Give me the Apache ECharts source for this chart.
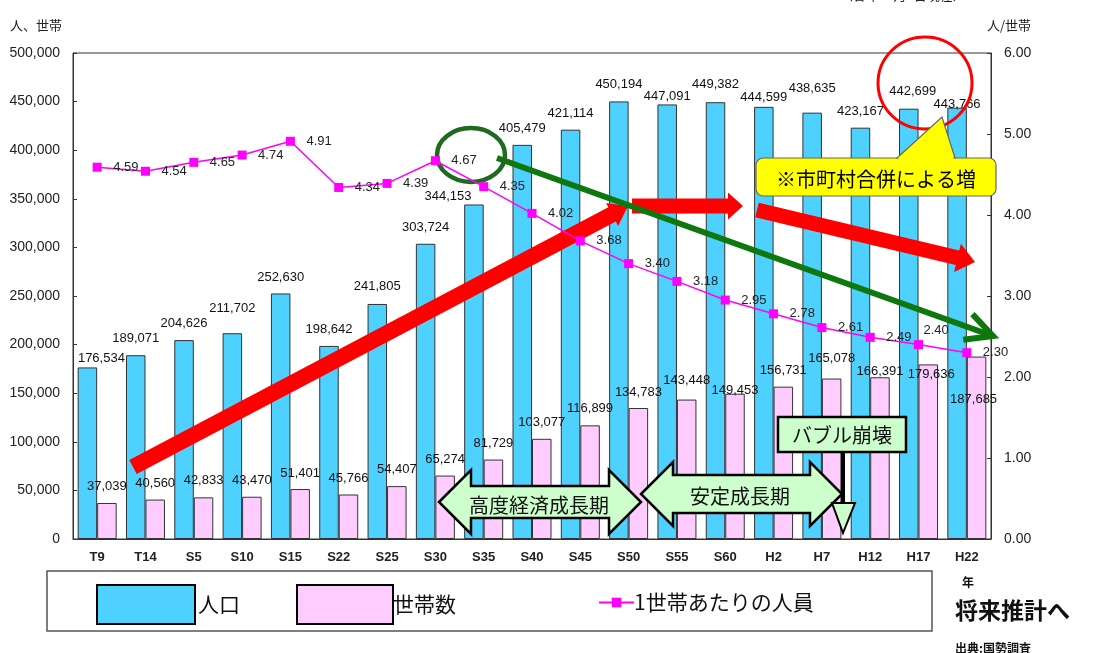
<!DOCTYPE html>
<html>
<head>
<meta charset="utf-8">
<script src="https://cdn.jsdelivr.net/npm/echarts@6/dist/echarts.min.js"></script>
<style>
  html, body { margin: 0; padding: 0; background: #fff; }
  #chart { width: 1105px; height: 653px; }
</style>
</head>
<body>
<div id="chart"></div>
<script>
// 国勢調査年（大正9年〜平成22年）
const years = ['T9','T14','S5','S10','S15','S22','S25','S30','S35','S40','S45','S50','S55','S60','H2','H7','H12','H17','H22'];
// 人口（人）
const population = [176534,189071,204626,211702,252630,198642,241805,303724,344153,405479,421114,450194,447091,449382,444599,438635,423167,442699,443766];
// 世帯数
const households = [37039,40560,42833,43470,51401,45766,54407,65274,81729,103077,116899,134783,143448,149453,156731,165078,166391,179636,187685];
// 1世帯あたりの人員（人/世帯）
const perHousehold = [4.59,4.54,4.65,4.74,4.91,4.34,4.39,4.67,4.35,4.02,3.68,3.40,3.18,2.95,2.78,2.61,2.49,2.40,2.30];
const leftTicks = { min: 0, max: 500000, step: 50000 };
const rightTicks = { min: 0, max: 6, step: 1 };

// label nudges [dx, dy] so neighbouring labels do not collide
const popLabelShift = [[14,8],[0,0],[0,0],[0,-8],[0,0],[0,0],[0,-1],[0,0],[-26,8],[0,0],[0,0],[0,0],[0,8],[0,-1],[0,7],[0,-8],[0,0],[4,-1],[0,13]];
const hhLabelShift = [[0,0],[0,0],[0,0],[0,0],[0,1],[0,0],[0,0],[0,0],[0,0],[0,0],[0,0],[0,1],[0,-3],[0,13],[0,0],[0,-4],[0,11],[3,27],[-3,59]];
const ratioLabelShift = perHousehold.map((v, i) => i === 17 ? [-11, -14] : [0, 0]);

const NUM_FONT = '"Liberation Sans", Arial, sans-serif';
const JP_FONT = '"Noto Sans CJK JP", "Noto Sans", sans-serif';
const fmt = v => Number(v).toLocaleString('en-US');

// polygon for a straight block arrow from (x1,y1) to tip (x2,y2)
function blockArrow(x1, y1, x2, y2, shaft, headW, headL) {
  const dx = x2 - x1, dy = y2 - y1, L = Math.hypot(dx, dy);
  const ux = dx / L, uy = dy / L, nx = -uy, ny = ux;
  const bx = x2 - ux * headL, by = y2 - uy * headL;
  const s = shaft / 2, h = headW / 2;
  return [
    [x1 + nx * s, y1 + ny * s], [bx + nx * s, by + ny * s], [bx + nx * h, by + ny * h],
    [x2, y2],
    [bx - nx * h, by - ny * h], [bx - nx * s, by - ny * s], [x1 - nx * s, y1 - ny * s]
  ];
}
// horizontal double-headed arrow
function doubleArrow(x1, x2, cy, headL, headH, shaftH) {
  return [
    [x1, cy], [x1 + headL, cy - headH], [x1 + headL, cy - shaftH], [x2 - headL, cy - shaftH],
    [x2 - headL, cy - headH], [x2, cy], [x2 - headL, cy + headH], [x2 - headL, cy + shaftH],
    [x1 + headL, cy + shaftH], [x1 + headL, cy + headH]
  ];
}
// open chevron head for a line arrow
function chevron(x1, y1, x2, y2, len, deg) {
  const a = Math.atan2(y1 - y2, x1 - x2), r = deg * Math.PI / 180;
  return [
    [x2 + len * Math.cos(a - r), y2 + len * Math.sin(a - r)],
    [x2, y2],
    [x2 + len * Math.cos(a + r), y2 + len * Math.sin(a + r)]
  ];
}

const chart = echarts.init(document.getElementById('chart'), null, { renderer: 'canvas' });

const txt = (x, y, text, size, opts) => Object.assign({
  type: 'text', x: x, y: y, z: 20,
  style: Object.assign({ text: text, font: size + 'px ' + JP_FONT, fill: '#111', textVerticalAlign: 'middle' }, opts || {})
});

const RED = '#FF0000';
const GREEN = '#0E780E';
const PALE = '#CCFFCC';

const graphics = [
  // header texts
  txt(840, -5, '（各年10月1日現在）', 13, { fill: '#222' }),
  txt(10, 25, '人、世帯', 13, { fill: '#222' }),
  txt(987, 25, '人/世帯', 13, { fill: '#222' }),
  // legend frame
  { type: 'rect', z: 1, shape: { x: 47, y: 571, width: 885, height: 60 }, style: { fill: 'none', stroke: '#555', lineWidth: 1.5 } },
  txt(962, 582, '年', 12, { font: 'bold 12px ' + JP_FONT }),
  txt(955, 610, '将来推計へ', 23, { font: 'bold 23px ' + JP_FONT }),
  txt(955, 648, '出典:国勢調査', 12, { font: 'bold 12px ' + JP_FONT }),
  // growth / plateau / decline arrows
  { type: 'polygon', z: 5, shape: { points: blockArrow(133, 467, 628, 206, 16, 26, 18) }, style: { fill: RED } },
  { type: 'polygon', z: 5, shape: { points: blockArrow(632, 206, 743, 206, 15, 27, 15) }, style: { fill: RED } },
  { type: 'polygon', z: 5, shape: { points: blockArrow(757, 210, 975, 262, 15, 29, 18) }, style: { fill: RED } },
  // per-household trend arrow
  { type: 'line', z: 6, shape: { x1: 497, y1: 158, x2: 990, y2: 335 }, style: { stroke: GREEN, lineWidth: 6 } },
  { type: 'polyline', z: 6, shape: { points: chevron(497, 158, 993, 336, 30, 27) }, style: { stroke: GREEN, lineWidth: 6, lineJoin: 'miter' } },
  { type: 'ellipse', z: 6, shape: { cx: 471, cy: 155, rx: 34, ry: 27 }, style: { fill: 'none', stroke: '#1E6A1E', lineWidth: 4.5 } },
  // merger callout
  { type: 'ellipse', z: 6, shape: { cx: 925, cy: 83, rx: 47, ry: 46 }, style: { fill: 'none', stroke: RED, lineWidth: 3 } },
  { type: 'rect', z: 7, shape: { x: 756, y: 158, width: 240, height: 38, r: 7 }, style: { fill: '#FFFF00', stroke: '#666', lineWidth: 1.2 } },
  { type: 'polygon', z: 7, shape: { points: [[897, 158], [942, 117], [955, 158]] }, style: { fill: '#FFFF00', stroke: '#666', lineWidth: 1.2 } },
  { type: 'line', z: 7, shape: { x1: 898.5, y1: 158, x2: 953.5, y2: 158 }, style: { stroke: '#FFFF00', lineWidth: 2.5 } },
  txt(876, 179, '※市町村合併による増', 20, { textAlign: 'center', fill: '#000' }),
  // period arrows
  { type: 'polygon', z: 8, shape: { points: doubleArrow(439, 641, 502, 32, 32, 16) }, style: { fill: PALE, stroke: '#000', lineWidth: 2.5 } },
  txt(539, 505, '高度経済成長期', 20, { textAlign: 'center', fill: '#111' }),
  { type: 'polygon', z: 8, shape: { points: doubleArrow(641, 842, 494, 32, 32, 19) }, style: { fill: PALE, stroke: '#000', lineWidth: 2.5 } },
  txt(740, 496, '安定成長期', 20, { textAlign: 'center', fill: '#111' }),
  // bubble burst marker
  { type: 'line', z: 8, shape: { x1: 843, y1: 452, x2: 843, y2: 504 }, style: { stroke: '#000', lineWidth: 4 } },
  { type: 'polygon', z: 8, shape: { points: [[832, 503], [855, 503], [843, 533]] }, style: { fill: PALE, stroke: '#000', lineWidth: 2 } },
  { type: 'rect', z: 8, shape: { x: 778, y: 417, width: 128, height: 35 }, style: { fill: PALE, stroke: '#000', lineWidth: 2.5 } },
  txt(842, 435, 'バブル崩壊', 20, { textAlign: 'center', fill: '#111' })
];

const option = {
  backgroundColor: '#fff',
  animation: false,
  grid: { left: 73, right: 114, top: 53, bottom: 114, show: true, borderColor: '#333', borderWidth: 1, backgroundColor: 'transparent' },
  legend: [
    { data: ['人口'], left: 96, top: 584, padding: 0, itemWidth: 98, itemHeight: 39, icon: 'rect', selectedMode: false,
      itemStyle: { borderColor: '#000', borderWidth: 2 }, textStyle: { fontSize: 21, fontFamily: JP_FONT, color: '#111', padding: [0, 0, 0, -2] } },
    { data: ['世帯数'], left: 296, top: 584, padding: 0, itemWidth: 96, itemHeight: 39, icon: 'rect', selectedMode: false,
      itemStyle: { borderColor: '#000', borderWidth: 2 }, textStyle: { fontSize: 21, fontFamily: JP_FONT, color: '#111', padding: [0, 0, 0, -5] } },
    { data: ['1世帯あたりの人員'], left: 598, top: 592, padding: 0, itemWidth: 35, itemHeight: 12, selectedMode: false,
      textStyle: { fontSize: 21, fontFamily: JP_FONT, color: '#111', padding: [0, 0, 0, -5] } }
  ],
  xAxis: {
    type: 'category', data: years,
    axisLine: { lineStyle: { color: '#333', width: 1 } },
    axisTick: { inside: true, length: 4, lineStyle: { color: '#333' } },
    axisLabel: { margin: 12, fontSize: 13, fontWeight: 'bold', fontFamily: NUM_FONT, color: '#222' },
    splitLine: { show: false }
  },
  yAxis: [
    { type: 'value', position: 'left', min: leftTicks.min, max: leftTicks.max, interval: leftTicks.step,
      axisLine: { show: true, lineStyle: { color: '#333' } },
      axisTick: { show: true, inside: true, length: 4, lineStyle: { color: '#333' } },
      axisLabel: { margin: 13, fontSize: 14, fontFamily: NUM_FONT, color: '#222', formatter: v => fmt(v) },
      splitLine: { show: false } },
    { type: 'value', position: 'right', min: rightTicks.min, max: rightTicks.max, interval: rightTicks.step,
      axisLine: { show: true, lineStyle: { color: '#333' } },
      axisTick: { show: true, inside: true, length: 4, lineStyle: { color: '#333' } },
      axisLabel: { margin: 13, fontSize: 14, fontFamily: NUM_FONT, color: '#222', formatter: v => v.toFixed(2) },
      splitLine: { show: false } }
  ],
  series: [
    { name: '人口', type: 'bar', yAxisIndex: 0, barWidth: 19.5, barGap: '0%', z: 2,
      itemStyle: { color: '#4FD1FF', borderColor: '#333', borderWidth: 1 },
      label: { show: true, position: 'top', distance: 10, fontSize: 13, fontFamily: NUM_FONT, color: '#111', formatter: p => fmt(p.value) },
      data: population.map((v, i) => ({ value: v, label: { offset: popLabelShift[i] } })) },
    { name: '世帯数', type: 'bar', yAxisIndex: 0, barWidth: 19.5, barGap: '0%', z: 2,
      itemStyle: { color: '#FFCCFF', borderColor: '#333', borderWidth: 1 },
      label: { show: true, position: 'top', distance: 10, fontSize: 13, fontFamily: NUM_FONT, color: '#111', formatter: p => fmt(p.value) },
      data: households.map((v, i) => ({ value: v, label: { offset: hhLabelShift[i] } })) },
    { name: '1世帯あたりの人員', type: 'line', yAxisIndex: 1, z: 10,
      symbol: 'rect', symbolSize: 9,
      itemStyle: { color: '#FF00FF' },
      lineStyle: { color: '#FF00FF', width: 1.5 },
      label: { show: true, position: 'right', distance: 11.5, fontSize: 13, fontFamily: NUM_FONT, color: '#222', formatter: p => p.value.toFixed(2) },
      data: perHousehold.map((v, i) => ({ value: v, label: { offset: ratioLabelShift[i] } })) }
  ],
  graphic: graphics
};

chart.setOption(option);
</script>
</body>
</html>
